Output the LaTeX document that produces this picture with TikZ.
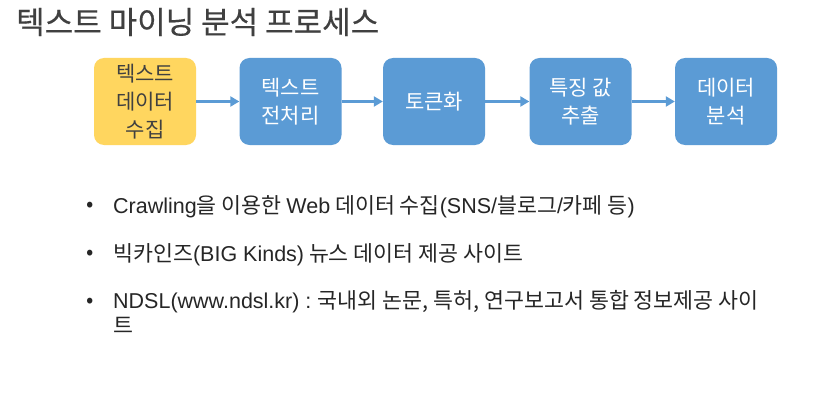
\documentclass[tikz,border=0pt]{standalone}
\usepackage{fontspec}
\setmainfont{Noto Sans CJK KR}
\newfontfamily\lat{Liberation Sans}
\newfontfamily\heading{Noto Sans CJK KR}[FakeBold=0.4]
\usetikzlibrary{arrows.meta, positioning}
\definecolor{stageblue}{HTML}{5B9BD5}
\definecolor{stageyellow}{HTML}{FFD65F}
\definecolor{titlegray}{HTML}{404040}
\definecolor{itemgray}{HTML}{262626}
\newcommand{\latin}[1]{{\lat\fontsize{21.5}{25}\selectfont #1}}

\begin{document}
\begin{tikzpicture}[x=1pt, y=-1pt,
    stage/.style={rounded corners=10pt, fill=stageblue, text=white, minimum width=102pt, minimum height=87pt, align=center, inner sep=0pt, font=\fontsize{21}{28}\selectfont},
    flow/.style={draw=stageblue, line width=2.2pt, -{Triangle[length=9pt, width=10pt]}},
    item/.style={anchor=west, text=itemgray, inner sep=0pt, align=left, font=\fontsize{21.7}{25}\selectfont}]
    \useasboundingbox[fill=white] (0,0) rectangle (813,417);

    \node[anchor=west, inner sep=0pt, text=titlegray, font=\heading\fontsize{31}{34}\selectfont] (title) at (16,22) {텍스트 마이닝 분석 프로세스};

    % process stages
    \node[stage, fill=stageyellow, text=titlegray] (1) at (145,101.5) {텍스트\\데이터\\수집};
    \node[stage] (2) at (290.5,101.5) {텍스트\\전처리};
    \node[stage] (3) at (434,101.5) {토큰화};
    \node[stage] (4) at (580.5,101.5) {특징 값\\추출};
    \node[stage] (5) at (726,101.5) {데이터\\분석};

    \draw[flow] (1) -- (2);
    \draw[flow] (2) -- (3);
    \draw[flow] (3) -- (4);
    \draw[flow] (4) -- (5);

    % data sources
    \node[item] (d1) at (86,207) {•};
    \node[item] (s1) at (113,207) {\latin{Crawling}을 이용한 \latin{Web} 데이터 수집\latin{(SNS/}블로그\latin{/}카페 등\latin{)}};
    \node[item] (d2) at (86,255) {•};
    \node[item] (s2) at (113,255) {빅카인즈\latin{(BIG Kinds)} 뉴스 데이터 제공 사이트};
    \node[item] (d3) at (86,303) {•};
    \node[item, anchor=north west] (s3) at (113,290) {\latin{NDSL(www.ndsl.kr) :} 국내외 논문, 특허, 연구보고서 통합 정보제공 사이\\트};
\end{tikzpicture}
\end{document}
